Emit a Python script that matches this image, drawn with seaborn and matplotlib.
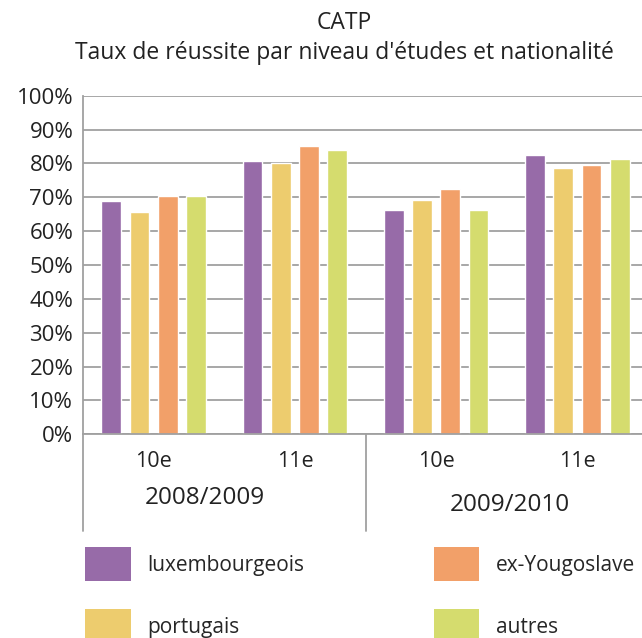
import matplotlib
matplotlib.use("Agg")
import matplotlib.pyplot as plt
from matplotlib.patches import Patch
import seaborn as sns
import pandas as pd

# data
years = ["2008/2009", "2008/2009", "2009/2010", "2009/2010"]
levels = ["10e", "11e", "10e", "11e"]
nationalities = ["luxembourgeois", "portugais", "ex-Yougoslave", "autres"]
luxembourgeois = [68.9, 80.7, 66.2, 82.5]
portugais = [65.6, 80.1, 69.2, 78.6]
ex_yougoslave = [70.4, 85.1, 72.4, 79.5]
autres = [70.4, 84.0, 66.2, 81.3]
colors = ["#976ba8", "#edcc6e", "#f2a069", "#d5dc6e"]

groups = [f"{y} {l}" for y, l in zip(years, levels)]
rows = []
for nat, vals in zip(nationalities, [luxembourgeois, portugais, ex_yougoslave, autres]):
    for g, v in zip(groups, vals):
        rows.append({"groupe": g, "nationalite": nat, "taux": v})
df = pd.DataFrame(rows)

sns.set_style("white")
plt.rcParams['font.family'] = ['Open Sans', 'DejaVu Sans']

fig = plt.figure(figsize=(6.42, 6.38), dpi=100)
ax = fig.add_axes([83 / 642, 1 - 434.3 / 638, 565 / 642, (434.3 - 95.7) / 638])

sns.barplot(data=df, x="groupe", y="taux", hue="nationalite", order=groups,
            hue_order=nationalities, palette=colors, width=0.8, gap=0.3,
            saturation=1, legend=False, ax=ax)

ax.set_ylim(0, 100)
ax.set_xlim(-0.5, 3.5)
ax.set_yticks(range(0, 101, 10))
ax.set_yticklabels([f"{v}%" for v in range(0, 101, 10)], fontsize=16, color="#222222")
ax.yaxis.grid(True, color="#a0a0a0", linewidth=1.3)
ax.set_axisbelow(True)
ax.tick_params(axis="y", length=0, pad=7)
ax.set_xticks(range(4))
ax.set_xticklabels(levels, fontsize=15.5, color="#222222")
ax.tick_params(axis="x", direction="in", length=8, width=1, color="#a0a0a0", pad=12)
ax.set_xlabel("")
ax.set_ylabel("")
for s in ["top", "right"]:
    ax.spines[s].set_visible(False)
for s in ["left", "bottom"]:
    ax.spines[s].set_color("#a0a0a0")
    ax.spines[s].set_linewidth(1.3)

# separators under the axis
for xs in [-0.5, 1.5]:
    ax.plot([xs, xs], [0, -28.5], color="#a0a0a0", lw=1.3, clip_on=False)

fig.text(205 / 642, 1 - 498 / 638, "2008/2009", ha="center", va="center", fontsize=17.5, color="#222222")
fig.text(510 / 642, 1 - 505 / 638, "2009/2010", ha="center", va="center", fontsize=17.5, color="#222222")

fig.text(344 / 642, 1 - 23 / 638, "CATP", ha="center", va="center", fontsize=16.5, color="#222222")
fig.text(344 / 642, 1 - 53 / 638, "Taux de réussite par niveau d'études et nationalité",
         ha="center", va="center", fontsize=16.5, color="#222222")

handles = [Patch(facecolor=c, edgecolor="none") for c in colors]
fig.legend(handles, nationalities,
           loc="upper left", bbox_to_anchor=(85 / 642, 1 - 547 / 638), ncol=2, frameon=False,
           fontsize=15, handlelength=2.2, handleheight=2.14, handletextpad=0.8,
           columnspacing=6.2, labelspacing=1.35, borderpad=0, borderaxespad=0)

fig.savefig("out.png", dpi=100)
